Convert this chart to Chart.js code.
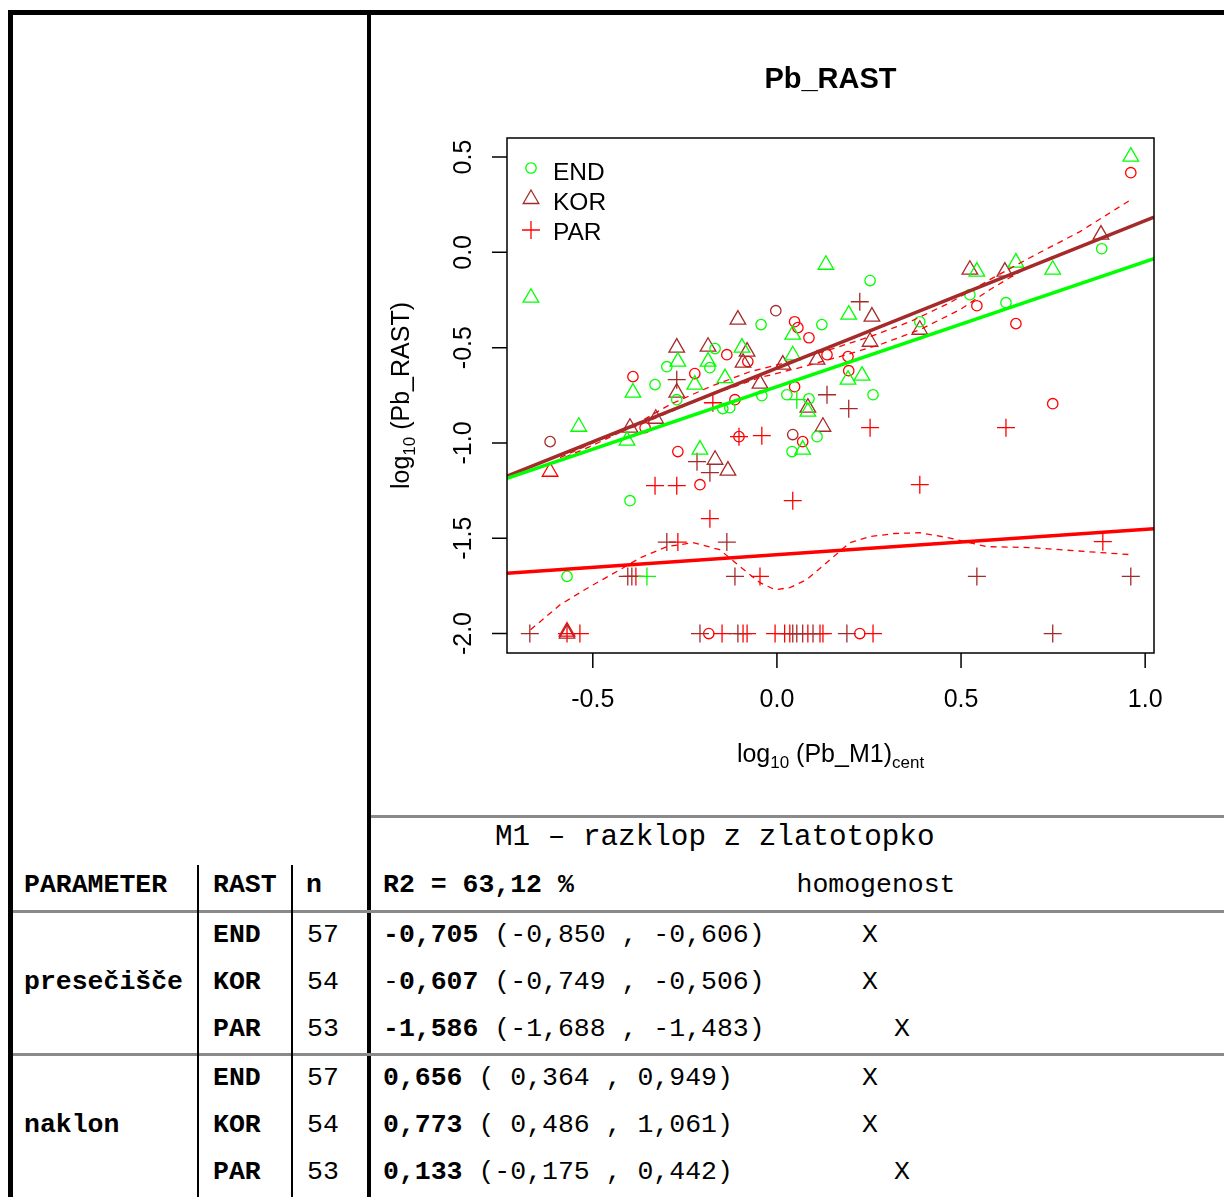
<!DOCTYPE html>
<html>
<head>
<meta charset="utf-8">
<title>Pb_RAST</title>
<script src="https://cdn.jsdelivr.net/npm/chart.js@4.4.1/dist/chart.umd.min.js"></script>
<style>
  html, body { margin: 0; padding: 0; background: #fff; }
  #page { position: relative; width: 1224px; height: 1197px; overflow: hidden; }
  .rule { position: absolute; background: #000; }
  .grey { position: absolute; background: #8a8a8a; }
  .t {
    position: absolute;
    font-family: "Liberation Mono", "DejaVu Sans Mono", monospace;
    font-size: 26.5px;
    line-height: 26px;
    white-space: pre;
    color: #000;
  }
  .b { font-weight: bold; }
  #plotBox { position: absolute; left: 372px; top: 16px; width: 852px; height: 798px; }
</style>
</head>
<body>
<div id="page">
  <div class="rule" style="left:8px;top:10px;width:1216px;height:5px"></div>
  <div class="rule" style="left:8px;top:10px;width:5px;height:1187px"></div>
  <div class="rule" style="left:367px;top:10px;width:4px;height:1187px"></div>
  <div class="grey" style="left:371px;top:815px;width:853px;height:3px"></div>
  <div class="grey" style="left:13px;top:910px;width:1211px;height:3px"></div>
  <div class="grey" style="left:13px;top:1053px;width:1211px;height:3px"></div>
  <div class="rule" style="left:197px;top:865px;width:2px;height:332px"></div>
  <div class="rule" style="left:291px;top:865px;width:2px;height:332px"></div>

  <div id="plotBox"><canvas id="chart" width="852" height="798"></canvas></div>

  <div class="t" style="left:495px;top:823px;font-size:29.3px;line-height:29px">M1 – razklop z zlatotopko</div>
  <div class="t b" style="left:24px;top:872px">PARAMETER</div>
  <div class="t b" style="left:213px;top:872px">RAST</div>
  <div class="t b" style="left:306px;top:872px">n</div>
  <div class="t" style="left:383px;top:872px"><span class="b">R2 = 63,12 %</span>              homogenost</div>
  <div id="rows"></div>
</div>

<script>
// model M1: groups, sizes, estimates with 95% intervals
const groups = ['END', 'KOR', 'PAR'];
const counts = [57, 54, 53];
const intercepts = [-0.705, -0.607, -1.586];
const interceptLow = [-0.850, -0.749, -1.688];
const interceptHigh = [-0.606, -0.506, -1.483];
const slopes = [0.656, 0.773, 0.133];
const slopeLow = [0.364, 0.486, -0.175];
const slopeHigh = [0.949, 1.061, 0.442];
// which homogeneity column the X falls in
const homoCol = [0, 0, 1];

// axis ranges and ticks
const xRange = [-0.733, 1.024];
const yRange = [-2.102, 0.600];
const xTicks = [-0.5, 0, 0.5, 1.0];
const xTickLabels = ['-0.5', '0.0', '0.5', '1.0'];
const yTicks = [-2.0, -1.5, -1.0, -0.5, 0, 0.5];
const yTickLabels = ['-2.0', '-1.5', '-1.0', '-0.5', '0.0', '0.5'];

// observations [log10 Pb_M1 centred, log10 Pb_RAST]
const greenCircles = [[-0.043,-0.379],[0.122,-0.379],[0.253,-0.148],[0.388,-0.364],[0.524,-0.222],[0.622,-0.264],
  [0.882,0.019],[0.261,-0.747],[-0.299,-0.600],[-0.168,-0.505],[-0.182,-0.605],[-0.331,-0.694],[-0.272,-0.773],
  [-0.128,-0.815],[-0.147,-0.820],[-0.041,-0.752],[0.027,-0.747],[0.087,-0.768],[0.109,-0.967],[0.041,-1.045],
  [-0.399,-1.303],[-0.570,-1.700]];
const greenTriangles = [[0.961,0.502],[-0.668,-0.238],[0.133,-0.065],[0.195,-0.327],[0.543,-0.101],[0.649,-0.054],
  [0.749,-0.091],[0.043,-0.432],[0.043,-0.540],[0.193,-0.668],[0.231,-0.647],[-0.269,-0.573],[-0.187,-0.573],
  [-0.095,-0.500],[-0.223,-0.694],[-0.391,-0.736],[-0.407,-0.988],[-0.538,-0.915],[-0.209,-1.035],[0.070,-1.035],
  [0.084,-0.836],[-0.141,-0.660]];
const greenPluses = [[-0.353,-1.700],[0.054,-0.773]];
const brownCircles = [[-0.003,-0.306],[-0.616,-0.993],[0.043,-0.956]];
const brownTriangles = [[0.524,-0.091],[0.619,-0.101],[0.880,0.093],[0.258,-0.337],[0.388,-0.406],[0.253,-0.469],
  [0.109,-0.563],[0.016,-0.589],[-0.106,-0.353],[-0.272,-0.500],[-0.187,-0.495],[-0.081,-0.521],[-0.092,-0.579],
  [-0.046,-0.689],[-0.272,-0.736],[0.084,-0.815],[0.125,-0.915],[-0.329,-0.873],[-0.399,-0.920],[-0.168,-1.088],
  [-0.133,-1.145],[-0.570,-2.000]];
const brownPluses = [[0.225,-0.259],[0.136,-0.747],[0.195,-0.820],[-0.272,-0.668],[-0.217,-1.098],[-0.182,-1.156],
  [-0.299,-1.520],[-0.136,-1.520],[-0.405,-1.700],[-0.394,-1.700],[-0.114,-1.700],[0.543,-1.700],[0.961,-1.700],
  [-0.671,-2.000],[-0.209,-2.000],[-0.106,-2.000],[0.043,-2.000],[0.054,-2.000],[0.070,-2.000],[0.098,-2.000],
  [0.190,-2.000],[0.749,-2.000]];
const redCircles = [[0.961,0.418],[0.048,-0.364],[0.057,-0.395],[0.087,-0.448],[0.136,-0.537],[0.193,-0.547],
  [0.195,-0.621],[0.543,-0.280],[0.649,-0.374],[0.749,-0.794],[-0.136,-0.537],[-0.223,-0.636],[-0.391,-0.652],
  [-0.114,-0.773],[-0.358,-0.920],[-0.269,-1.045],[-0.209,-1.219],[-0.103,-0.967],[0.048,-0.705],[0.070,-0.993],
  [-0.079,-0.573],[-0.185,-2.000],[0.225,-2.000]];
const redTriangles = [[-0.616,-1.151],[-0.570,-1.990]];
const redPluses = [[-0.174,-0.789],[-0.103,-0.967],[-0.041,-0.962],[-0.331,-1.224],[-0.272,-1.224],[-0.182,-1.397],
  [0.043,-1.303],[0.253,-0.920],[0.622,-0.920],[0.388,-1.219],[-0.269,-1.520],[0.885,-1.518],[-0.046,-1.700],
  [-0.383,-1.700],[-0.535,-2.000],[-0.570,-2.000],[-0.149,-2.000],[-0.092,-2.000],[-0.081,-2.000],[-0.005,-2.000],
  [0.021,-2.000],[0.035,-2.000],[0.084,-2.000],[0.117,-2.000],[0.125,-2.000],[0.261,-2.000]];

// smoothed trends (dashed)
const smoothUpper = [[-0.603,-1.098],[-0.508,-1.019],[-0.399,-0.920],[-0.291,-0.799],[-0.182,-0.705],[-0.073,-0.626],
  [0.035,-0.573],[0.144,-0.510],[0.253,-0.442],[0.361,-0.364],[0.470,-0.264],[0.578,-0.143],[0.687,-0.028],
  [0.823,0.109],[0.961,0.276]];
const smoothLower = [[-0.589,-1.077],[-0.481,-0.983],[-0.372,-0.904],[-0.263,-0.815],[-0.155,-0.731],[-0.046,-0.657],
  [0.062,-0.605],[0.171,-0.547],[0.280,-0.484],[0.388,-0.406],[0.497,-0.301],[0.578,-0.196],[0.660,-0.101],
  [0.749,-0.023],[0.850,0.051],[0.961,0.135]];
const smoothPar = [[-0.669,-1.980],[-0.589,-1.849],[-0.508,-1.754],[-0.426,-1.665],[-0.372,-1.603],[-0.299,-1.544],
  [-0.228,-1.523],[-0.155,-1.560],[-0.100,-1.649],[-0.046,-1.733],[-0.005,-1.770],[0.035,-1.759],[0.081,-1.717],
  [0.144,-1.613],[0.198,-1.523],[0.253,-1.491],[0.320,-1.475],[0.388,-1.471],[0.462,-1.496],[0.570,-1.544],
  [0.687,-1.549],[0.842,-1.570],[0.961,-1.586]];

const GREEN = '#00ff00', BROWN = '#a52a2a', RED = '#ff0000';
const lineColors = [GREEN, BROWN, RED];

const pts = arr => arr.map(([x, y]) => ({ x, y }));

function marks(data, color, style) {
  const r = style === 'circle' ? 5.2 : 9;
  return {
    data: pts(data), pointStyle: style, pointRadius: r, pointHoverRadius: r,
    borderColor: color, backgroundColor: 'rgba(0,0,0,0)', pointBorderWidth: 1.3,
    showLine: false, order: 3
  };
}

function dashed(data) {
  return {
    data: pts(data), showLine: true, borderColor: RED, borderWidth: 1.3,
    borderDash: [6, 5], pointRadius: 0, tension: 0, order: 2
  };
}

// fitted group lines from the intercepts and slopes
const fitted = groups.map((g, i) => ({
  data: xRange.map(x => ({ x, y: intercepts[i] + slopes[i] * x })),
  showLine: true, borderColor: lineColors[i], borderWidth: 3.4,
  pointRadius: 0, tension: 0, order: 1
}));

function richText(ctx, parts, x, y) {
  let total = 0;
  parts.forEach(p => { ctx.font = p.size + 'px "Liberation Sans", Arial, sans-serif'; p.w = ctx.measureText(p.t).width; total += p.w; });
  let cx = x - total / 2;
  ctx.textAlign = 'left';
  parts.forEach(p => {
    ctx.font = p.size + 'px "Liberation Sans", Arial, sans-serif';
    ctx.fillText(p.t, cx, y + (p.dy || 0));
    cx += p.w;
  });
}

function legendMark(ctx, style, color, x, y) {
  ctx.strokeStyle = color;
  ctx.lineWidth = 1.3;
  ctx.beginPath();
  if (style === 'circle') {
    ctx.arc(x, y, 5.2, 0, Math.PI * 2);
  } else if (style === 'triangle') {
    const r = 9;
    ctx.moveTo(x, y - r);
    ctx.lineTo(x + r * Math.sin(Math.PI * 2 / 3), y - r * Math.cos(Math.PI * 2 / 3));
    ctx.lineTo(x + r * Math.sin(Math.PI * 4 / 3), y - r * Math.cos(Math.PI * 4 / 3));
    ctx.closePath();
  } else {
    ctx.moveTo(x - 9, y); ctx.lineTo(x + 9, y);
    ctx.moveTo(x, y - 9); ctx.lineTo(x, y + 9);
  }
  ctx.stroke();
}

const frame = {
  id: 'frame',
  afterDraw(chart) {
    const { ctx, chartArea: a, scales: { x, y } } = chart;
    ctx.save();
    ctx.strokeStyle = '#000';
    ctx.lineWidth = 1.5;
    ctx.strokeRect(a.left, a.top, a.right - a.left, a.bottom - a.top);

    ctx.beginPath();
    xTicks.forEach(v => {
      const px = x.getPixelForValue(v);
      ctx.moveTo(px, a.bottom); ctx.lineTo(px, a.bottom + 15);
    });
    yTicks.forEach(v => {
      const py = y.getPixelForValue(v);
      ctx.moveTo(a.left, py); ctx.lineTo(a.left - 15, py);
    });
    ctx.stroke();

    ctx.fillStyle = '#000';
    ctx.font = '25px "Liberation Sans", Arial, sans-serif';
    ctx.textAlign = 'center';
    ctx.textBaseline = 'alphabetic';
    xTicks.forEach((v, i) => ctx.fillText(xTickLabels[i], x.getPixelForValue(v), a.bottom + 54));
    yTicks.forEach((v, i) => {
      ctx.save();
      ctx.translate(a.left - 36, y.getPixelForValue(v));
      ctx.rotate(-Math.PI / 2);
      ctx.fillText(yTickLabels[i], 0, 0);
      ctx.restore();
    });

    const cx = (a.left + a.right) / 2;
    ctx.font = 'bold 29px "Liberation Sans", Arial, sans-serif';
    ctx.fillText('Pb_RAST', cx, 72);

    richText(ctx, [{ t: 'log', size: 25 }, { t: '10', size: 17, dy: 6 }, { t: ' (Pb_M1)', size: 25 }, { t: 'cent', size: 17, dy: 6 }],
      cx, a.bottom + 109);

    ctx.save();
    ctx.translate(37, (a.top + a.bottom) / 2);
    ctx.rotate(-Math.PI / 2);
    richText(ctx, [{ t: 'log', size: 25 }, { t: '10', size: 17, dy: 6 }, { t: ' (Pb_RAST)', size: 25 }], 0, 0);
    ctx.restore();

    // legend
    const styles = ['circle', 'triangle', 'cross'];
    const markOffs = [30, 61, 92];
    const textOffs = [42, 72, 102];
    groups.forEach((g, i) => {
      legendMark(ctx, styles[i], lineColors[i], a.left + 24, a.top + markOffs[i]);
      ctx.fillStyle = '#000';
      ctx.font = '24.5px "Liberation Sans", Arial, sans-serif';
      ctx.textAlign = 'left';
      ctx.fillText(g, a.left + 46, a.top + textOffs[i]);
    });
    ctx.restore();
  }
};

new Chart(document.getElementById('chart').getContext('2d'), {
  type: 'scatter',
  data: {
    datasets: [
      ...fitted,
      dashed(smoothUpper), dashed(smoothLower), dashed(smoothPar),
      marks(greenCircles, GREEN, 'circle'),
      marks(greenTriangles, GREEN, 'triangle'),
      marks(greenPluses, GREEN, 'cross'),
      marks(brownCircles, BROWN, 'circle'),
      marks(brownTriangles, BROWN, 'triangle'),
      marks(brownPluses, BROWN, 'cross'),
      marks(redCircles, RED, 'circle'),
      marks(redTriangles, RED, 'triangle'),
      marks(redPluses, RED, 'cross')
    ]
  },
  options: {
    responsive: false,
    animation: false,
    layout: { padding: { left: 135, top: 122, right: 70, bottom: 161 } },
    plugins: { legend: { display: false }, tooltip: { enabled: false }, title: { display: false } },
    scales: {
      x: { type: 'linear', min: xRange[0], max: xRange[1], display: false },
      y: { type: 'linear', min: yRange[0], max: yRange[1], display: false }
    }
  },
  plugins: [frame]
});

// coefficient table rows
const fmt = v => v.toFixed(3).replace('.', ',');
const rowsEl = document.getElementById('rows');
const rowTops = [922, 969, 1016, 1065, 1112, 1159];
function cell(text, left, top, bold) {
  const d = document.createElement('div');
  d.className = 't' + (bold ? ' b' : '');
  d.style.left = left + 'px';
  d.style.top = top + 'px';
  d.innerHTML = text;
  rowsEl.appendChild(d);
}
[['presečišče', intercepts, interceptLow, interceptHigh], ['naklon', slopes, slopeLow, slopeHigh]].forEach(([name, est, lo, hi], p) => {
  groups.forEach((g, i) => {
    const top = rowTops[p * 3 + i];
    if (i === 1) cell(name, 24, top, true);
    cell(g, 213, top, true);
    cell(String(counts[i]), 307, top, false);
    const e = fmt(est[i]);
    // the KOR intercept keeps its sign in regular weight
    const head = (p === 0 && i === 1) ? e[0] + '<b>' + e.slice(1) + '</b>' : '<b>' + e + '</b>';
    cell(head + ' (' + fmt(lo[i]).padStart(6, ' ') + ' , ' + fmt(hi[i]) + ')', 383, top, false);
    cell('X', homoCol[i] ? 894 : 862, top, false);
  });
});
</script>
</body>
</html>
